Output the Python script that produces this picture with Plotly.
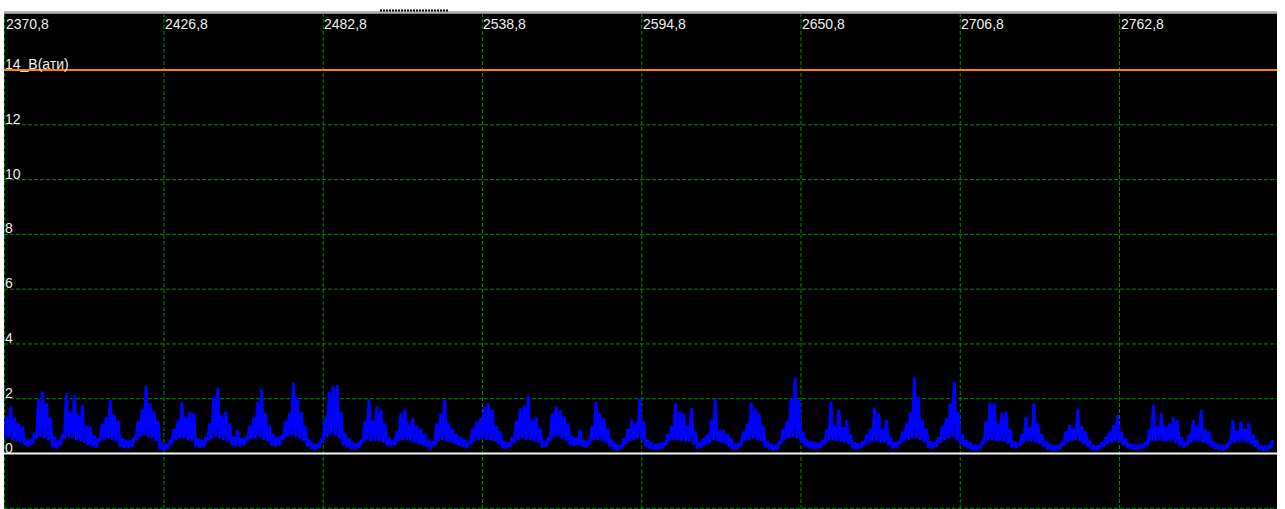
import plotly.graph_objects as go

# Time axis (s): first sample and sampling step of the recorded channel
t_start = 2370.8
t_step = 1.4

# Pressure, bar (gauge): per-sample upper and lower readings of the pulsing signal
p_high = [
    1.35, 1.71, 1.3, 1.1, 0.98, 0.5, 0.52, 0.75, 1.99, 2.26,
    1.83, 1.3, 0.6, 0.48, 0.7, 2.2, 1.5, 2.13, 1.4, 1.77,
    1.0, 0.98, 0.65, 0.55, 1.1, 1.34, 1.95, 1.4, 1.2, 0.55,
    0.5, 0.48, 0.6, 1.2, 1.6, 2.46, 1.83, 1.55, 1.2, 0.4,
    0.35, 0.45, 0.9, 1.2, 1.89, 1.35, 1.53, 1.47, 0.55, 0.5,
    0.6, 1.1, 2.07, 2.38, 1.4, 1.53, 1.1, 0.6, 0.86, 0.55,
    0.6, 1.0, 1.3, 1.89, 2.34, 1.47, 1.0, 0.7, 0.6, 0.65,
    1.2, 1.47, 2.58, 2.07, 1.5, 1.0, 0.5, 0.38, 0.35, 0.5,
    1.3, 2.26, 2.44, 2.5, 1.5, 0.75, 0.55, 0.4, 0.38, 0.5,
    1.2, 1.97, 1.2, 1.71, 1.59, 1.1, 0.6, 0.5, 0.8, 1.47,
    1.59, 1.1, 1.28, 1.0, 0.9, 0.7, 0.5, 0.4, 1.1, 1.47,
    1.97, 1.1, 0.9, 0.7, 0.6, 0.5, 0.45, 0.9, 1.16, 1.3,
    1.71, 1.83, 1.59, 1.0, 0.8, 0.45, 0.4, 0.6, 1.2, 1.65,
    1.77, 2.1, 1.22, 1.34, 0.9, 0.45, 0.55, 1.47, 1.71, 1.59,
    1.35, 1.1, 0.65, 0.55, 0.86, 0.5, 0.45, 1.0, 1.89, 1.47,
    1.28, 0.9, 0.5, 0.35, 0.3, 0.55, 0.9, 1.22, 1.1, 2.02,
    1.16, 0.5, 0.4, 0.35, 0.38, 0.4, 0.7, 1.0, 1.83, 1.53,
    1.47, 1.0, 1.65, 0.8, 0.4, 0.55, 0.7, 1.22, 1.98, 0.85,
    0.86, 0.7, 0.55, 0.35, 0.4, 0.8, 1.1, 1.86, 1.65, 1.47,
    1.0, 0.45, 0.35, 0.3, 0.4, 0.9, 1.2, 2.0, 2.78, 1.95,
    0.8, 0.5, 0.45, 0.4, 0.38, 0.5, 0.9, 1.89, 1.0, 1.59,
    0.95, 1.22, 0.7, 0.4, 0.35, 0.45, 0.7, 0.9, 1.69, 1.47,
    0.9, 1.22, 0.6, 0.4, 0.45, 0.8, 1.1, 1.5, 2.78, 2.07,
    1.22, 0.9, 0.45, 0.4, 0.6, 1.0, 1.3, 1.83, 2.62, 1.5,
    0.7, 0.5, 0.4, 0.3, 0.3, 0.45, 1.2, 1.85, 1.85, 1.1,
    1.47, 1.53, 0.9, 0.45, 0.4, 0.7, 1.34, 0.95, 1.83, 1.1,
    0.7, 0.45, 0.35, 0.3, 0.3, 0.4, 0.8, 1.04, 0.9, 1.61,
    1.0, 0.8, 0.5, 0.3, 0.3, 0.4, 0.6, 0.8, 1.04, 1.4,
    0.8, 0.55, 0.35, 0.33, 0.3, 0.35, 0.4, 0.9, 1.77, 1.0,
    1.47, 1.0, 1.1, 1.34, 1.22, 0.6, 0.4, 0.7, 1.22, 1.0,
    1.59, 0.85, 0.8, 0.45, 0.35, 0.3, 0.3, 0.45, 1.22, 0.8,
    1.16, 0.9, 1.1, 0.7, 0.5, 0.3, 0.25, 0.3, 0.5,
]
p_low = [
    0.55, 0.6, 0.5, 0.45, 0.42, 0.3, 0.25, 0.35, 0.55, 0.6,
    0.55, 0.5, 0.22, 0.18, 0.3, 0.55, 0.6, 0.55, 0.5, 0.45,
    0.4, 0.3, 0.25, 0.22, 0.45, 0.5, 0.55, 0.5, 0.45, 0.25,
    0.2, 0.2, 0.25, 0.5, 0.6, 0.65, 0.6, 0.55, 0.45, 0.15,
    0.1, 0.18, 0.4, 0.5, 0.55, 0.55, 0.5, 0.45, 0.25, 0.22,
    0.25, 0.45, 0.55, 0.6, 0.55, 0.5, 0.45, 0.3, 0.28, 0.25,
    0.3, 0.45, 0.55, 0.55, 0.6, 0.5, 0.45, 0.28, 0.25, 0.3,
    0.5, 0.6, 0.65, 0.6, 0.55, 0.45, 0.25, 0.18, 0.13, 0.2,
    0.5, 0.6, 0.7, 0.65, 0.55, 0.3, 0.22, 0.17, 0.15, 0.2,
    0.4, 0.5, 0.45, 0.5, 0.45, 0.4, 0.3, 0.25, 0.3, 0.45,
    0.5, 0.5, 0.45, 0.4, 0.35, 0.3, 0.25, 0.15, 0.35, 0.45,
    0.5, 0.45, 0.4, 0.35, 0.3, 0.25, 0.2, 0.35, 0.45, 0.5,
    0.55, 0.5, 0.5, 0.45, 0.35, 0.2, 0.18, 0.25, 0.4, 0.5,
    0.55, 0.5, 0.5, 0.45, 0.4, 0.22, 0.25, 0.5, 0.6, 0.6,
    0.55, 0.45, 0.3, 0.28, 0.3, 0.25, 0.22, 0.35, 0.5, 0.5,
    0.45, 0.4, 0.25, 0.15, 0.12, 0.2, 0.35, 0.45, 0.5, 0.55,
    0.5, 0.25, 0.18, 0.15, 0.15, 0.17, 0.3, 0.45, 0.5, 0.5,
    0.45, 0.45, 0.45, 0.35, 0.18, 0.22, 0.3, 0.4, 0.5, 0.45,
    0.4, 0.35, 0.25, 0.15, 0.17, 0.3, 0.45, 0.5, 0.55, 0.5,
    0.45, 0.22, 0.17, 0.13, 0.15, 0.4, 0.5, 0.55, 0.6, 0.55,
    0.4, 0.25, 0.2, 0.18, 0.17, 0.2, 0.35, 0.45, 0.5, 0.45,
    0.45, 0.4, 0.35, 0.18, 0.15, 0.2, 0.3, 0.4, 0.45, 0.45,
    0.4, 0.4, 0.3, 0.17, 0.2, 0.35, 0.45, 0.5, 0.55, 0.55,
    0.5, 0.4, 0.2, 0.18, 0.25, 0.4, 0.5, 0.55, 0.6, 0.5,
    0.35, 0.25, 0.2, 0.13, 0.12, 0.17, 0.35, 0.45, 0.5, 0.45,
    0.45, 0.45, 0.35, 0.22, 0.2, 0.3, 0.4, 0.45, 0.45, 0.4,
    0.35, 0.25, 0.15, 0.12, 0.12, 0.15, 0.3, 0.4, 0.45, 0.5,
    0.45, 0.35, 0.25, 0.13, 0.12, 0.17, 0.25, 0.35, 0.4, 0.45,
    0.4, 0.3, 0.2, 0.18, 0.15, 0.17, 0.2, 0.3, 0.45, 0.45,
    0.5, 0.45, 0.45, 0.45, 0.4, 0.3, 0.2, 0.3, 0.4, 0.45,
    0.45, 0.4, 0.35, 0.25, 0.18, 0.15, 0.12, 0.2, 0.35, 0.4,
    0.45, 0.45, 0.4, 0.35, 0.25, 0.15, 0.12, 0.13, 0.2,
]

# Grid positions and their labels
x_ticks = [2370.8, 2426.8, 2482.8, 2538.8, 2594.8, 2650.8, 2706.8, 2762.8]
x_tick_labels = ["2370,8", "2426,8", "2482,8", "2538,8", "2594,8", "2650,8", "2706,8", "2762,8"]
y_grid = [-2, 2, 4, 6, 8, 10, 12]
y_ticks = [0, 2, 4, 6, 8, 10, 12, 14]
y_tick_labels = ["0", "2", "4", "6", "8", "10", "12", "14_B(ати)"]
setpoint = 14

# Interleave the lower/upper readings so the trace zigzags between them
t_vals, p_vals = [], []
for i, (lo, hi) in enumerate(zip(p_low, p_high)):
    t0 = t_start + i * t_step
    t_vals += [t0, t0 + t_step / 2]
    p_vals += [lo, hi]

X_RANGE = [2370.554, 2818.18]
Y_RANGE = [-2.026, 16.046]
FONT = "Liberation Sans, Arial, sans-serif"
TEXT_COLOR = "#f0f0f0"
GRID_COLOR = "#008a00"
GRID_DASH = "4px,2px"

fig = go.Figure()
fig.add_trace(go.Scatter(
    x=t_vals, y=p_vals, mode="lines",
    line=dict(color="#0000ff", width=3),
    hoverinfo="skip", showlegend=False,
))

# Dashed grid drawn as shapes
for xv in x_ticks:
    fig.add_shape(type="line", xref="x", yref="paper", x0=xv, x1=xv, y0=0, y1=1,
                  line=dict(color=GRID_COLOR, width=1, dash=GRID_DASH), layer="below")
for yv in y_grid:
    fig.add_shape(type="line", xref="paper", yref="y", x0=0, x1=1, y0=yv, y1=yv,
                  line=dict(color=GRID_COLOR, width=1, dash=GRID_DASH), layer="below")

# Zero reference line and set-point line
fig.add_shape(type="line", xref="paper", yref="y", x0=0, x1=1, y0=0, y1=0,
              line=dict(color="#f4f4f4", width=2))
fig.add_shape(type="line", xref="paper", yref="y", x0=0, x1=1, y0=setpoint, y1=setpoint,
              line=dict(color="#ff8000", width=2))

# Window frame strip and splitter grip above the plot
fig.add_shape(type="rect", xref="paper", yref="paper", x0=0, x1=1, y0=1.0, y1=1.0061,
              fillcolor="#b4b4b4", line_width=0, layer="above")
fig.add_shape(type="rect", xref="paper", yref="paper", x0=0, x1=1, y0=1.0, y1=1.0021,
              fillcolor="#808080", line_width=0, layer="above")
fig.add_shape(type="line", xref="paper", yref="paper", x0=0.2954, x1=0.3496, y0=1.0071, y1=1.0071,
              line=dict(color="#000000", width=2, dash="2px,1px"), layer="above")

annotations = []
for xv, lab in zip(x_ticks, x_tick_labels):
    annotations.append(dict(x=xv, y=1, xref="x", yref="paper", text=lab, showarrow=False,
                            xanchor="left", yanchor="top", xshift=-1, yshift=0,
                            font=dict(family=FONT, size=14, color=TEXT_COLOR)))
for yv, lab in zip(y_ticks, y_tick_labels):
    annotations.append(dict(x=0, y=yv, xref="paper", yref="y", text=lab, showarrow=False,
                            xanchor="left", yanchor="bottom", xshift=-1, yshift=-4,
                            font=dict(family=FONT, size=14, color=TEXT_COLOR)))

fig.update_layout(
    width=1285, height=509, autosize=False,
    margin=dict(l=4, r=8, t=14, b=0, pad=0),
    paper_bgcolor="#ffffff", plot_bgcolor="#000000",
    showlegend=False, annotations=annotations,
    xaxis=dict(range=X_RANGE, showticklabels=False, ticks="", showgrid=False,
               zeroline=False, showline=False, fixedrange=True),
    yaxis=dict(range=Y_RANGE, showticklabels=False, ticks="", showgrid=False,
               zeroline=False, showline=False, fixedrange=True),
)

fig.write_html("out.html", config={"displayModeBar": False})
